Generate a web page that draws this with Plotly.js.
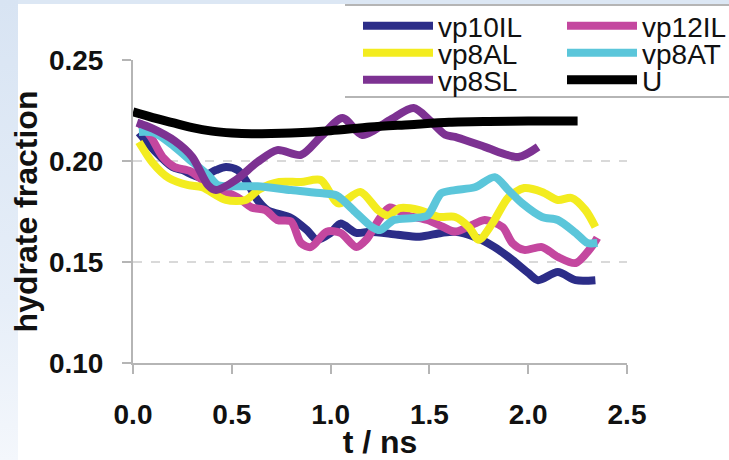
<!DOCTYPE html>
<html>
<head>
<meta charset="utf-8">
<script src="https://cdn.plot.ly/plotly-3.0.1.min.js"></script>
<style>
  html, body { margin: 0; padding: 0; }
  body {
    width: 729px; height: 460px; overflow: hidden;
    background:
      linear-gradient(to bottom, #d8e4f3 0px, #e6eef8 300px, #f4f7fc 460px) left top / 18px 460px no-repeat,
      linear-gradient(to bottom, #dce7f4 0px, #dce7f4 4px, #ffffff 4px) left top / 729px 460px no-repeat;
  }
  #chart { width: 729px; height: 460px; }
</style>
</head>
<body>
<div id="chart"></div>
<script>
// ---- data ----
const seriesNames = ["vp10IL", "vp12IL", "vp8AL", "vp8AT", "vp8SL", "U"];
const seriesColors = ["#2c2d88", "#c4479f", "#f3ec1f", "#5bc6da", "#7d3292", "#000000"];

const t_vp10IL = [0.03, 0.11, 0.20, 0.25, 0.34, 0.42, 0.47, 0.53, 0.58, 0.63, 0.68, 0.80, 0.88, 0.93, 1.00, 1.05, 1.13, 1.20, 1.34, 1.45, 1.56, 1.63, 1.73, 1.83, 1.92, 2.00, 2.05, 2.15, 2.24, 2.34];
const v_vp10IL = [0.214, 0.205, 0.197, 0.1955, 0.192, 0.1955, 0.197, 0.1955, 0.189, 0.1807, 0.1757, 0.1718, 0.1658, 0.161, 0.1644, 0.169, 0.1644, 0.165, 0.1635, 0.1625, 0.1644, 0.165, 0.1624, 0.1574, 0.151, 0.1446, 0.141, 0.145, 0.141, 0.141];

const t_vp12IL = [0.03, 0.09, 0.15, 0.21, 0.29, 0.36, 0.44, 0.53, 0.60, 0.67, 0.73, 0.80, 0.85, 0.90, 0.98, 1.05, 1.13, 1.18, 1.25, 1.30, 1.39, 1.49, 1.57, 1.63, 1.73, 1.78, 1.87, 1.92, 1.98, 2.07, 2.15, 2.24, 2.32, 2.35];
const v_vp12IL = [0.219, 0.212, 0.202, 0.197, 0.195, 0.190, 0.186, 0.182, 0.177, 0.1757, 0.1708, 0.170, 0.1594, 0.1574, 0.165, 0.1644, 0.1574, 0.161, 0.1718, 0.177, 0.173, 0.1708, 0.1673, 0.165, 0.169, 0.1708, 0.1673, 0.1594, 0.156, 0.1574, 0.1525, 0.1495, 0.1574, 0.162];

const t_vp8AL = [0.03, 0.10, 0.18, 0.28, 0.35, 0.47, 0.57, 0.64, 0.74, 0.85, 0.95, 1.04, 1.15, 1.24, 1.29, 1.35, 1.45, 1.55, 1.63, 1.70, 1.75, 1.82, 1.90, 1.98, 2.07, 2.15, 2.22, 2.29, 2.34];
const v_vp8AL = [0.2094, 0.199, 0.1916, 0.188, 0.187, 0.1807, 0.1807, 0.186, 0.1896, 0.1896, 0.1906, 0.179, 0.1847, 0.1757, 0.173, 0.1767, 0.1757, 0.1723, 0.1723, 0.1673, 0.161, 0.1693, 0.182, 0.1866, 0.1847, 0.1807, 0.1817, 0.1757, 0.1673];

const t_vp8AT = [0.03, 0.11, 0.21, 0.30, 0.38, 0.43, 0.52, 0.63, 0.80, 0.96, 1.03, 1.13, 1.21, 1.25, 1.32, 1.42, 1.49, 1.56, 1.63, 1.73, 1.83, 1.90, 1.97, 2.07, 2.15, 2.24, 2.30, 2.35];
const v_vp8AT = [0.2144, 0.2139, 0.207, 0.1995, 0.193, 0.188, 0.1875, 0.1875, 0.1856, 0.184, 0.183, 0.1743, 0.1673, 0.1658, 0.1708, 0.1718, 0.173, 0.184, 0.1856, 0.187, 0.192, 0.1856, 0.179, 0.1723, 0.1708, 0.1644, 0.1594, 0.1594];

const t_vp8SL = [0.02, 0.10, 0.21, 0.30, 0.38, 0.42, 0.52, 0.63, 0.73, 0.85, 0.95, 1.06, 1.16, 1.30, 1.42, 1.50, 1.58, 1.63, 1.78, 1.95, 2.05];
const v_vp8SL = [0.219, 0.216, 0.210, 0.202, 0.188, 0.1856, 0.1906, 0.1995, 0.2054, 0.203, 0.212, 0.2213, 0.2129, 0.2203, 0.2262, 0.2203, 0.213, 0.2119, 0.207, 0.202, 0.207];

const t_U = [0.00, 0.10, 0.20, 0.30, 0.40, 0.50, 0.60, 0.70, 0.80, 1.00, 1.20, 1.40, 1.60, 1.80, 2.00, 2.25];
const v_U = [0.2243, 0.2215, 0.219, 0.2165, 0.2148, 0.2139, 0.2135, 0.2136, 0.2139, 0.2150, 0.2168, 0.2180, 0.2192, 0.2196, 0.2198, 0.2198];

const xTicks = [0, 0.5, 1.0, 1.5, 2.0, 2.5];
const yTicks = [0.10, 0.15, 0.20, 0.25];
const xTitle = "t / ns";
const yTitle = "hydrate fraction";

// ---- build traces ----
const xs = [t_vp10IL, t_vp12IL, t_vp8AL, t_vp8AT, t_vp8SL, t_U];
const ys = [v_vp10IL, v_vp12IL, v_vp8AL, v_vp8AT, v_vp8SL, v_U];
const legendIds = ["legend", "legend2", "legend3", "legend4", "legend5", "legend6"];

const traces = seriesNames.map((n, i) => ({
  type: "scatter", mode: "lines", name: n,
  x: xs[i], y: ys[i],
  line: { color: seriesColors[i], width: i === 5 ? 9 : 8, shape: "spline", smoothing: 0.8 },
  legend: legendIds[i],
  hoverinfo: "skip"
}));

// Plot area: 133..627 px wide, 60..363 px high
const L = 133, R = 729 - 627, T = 60, B = 460 - 363;
const PW = 729 - L - R, PH = 460 - T - B;
const px2x = p => (p - L) / PW;
const py2y = p => 1 + (T - p) / PH;

const FONT = "Liberation Sans, Arial, sans-serif";
// legend positions (two columns, three rows)
const colX = [358, 562];
const rowY = [26, 53, 80];
const legendPos = [[0,0],[1,0],[0,1],[1,1],[0,2],[1,2]];

const layout = {
  width: 729, height: 460,
  margin: { l: L, r: R, t: T, b: B, autoexpand: false },
  paper_bgcolor: "rgba(0,0,0,0)",
  plot_bgcolor: "rgba(0,0,0,0)",
  showlegend: true,
  font: { family: FONT, color: "#111" },
  xaxis: {
    range: [0, 2.5], tickvals: xTicks, tickformat: ".1f",
    showgrid: false, zeroline: false,
    showline: true, linecolor: "#b5b5b5", linewidth: 2,
    ticks: "outside", ticklen: 9, tickwidth: 2, tickcolor: "#b5b5b5",
    tickfont: { family: FONT, size: 28, weight: "bold", color: "#111" },
    ticklabelstandoff: 16,
    title: { text: xTitle, font: { family: FONT, size: 32, weight: "bold", color: "#111" }, standoff: 5 },
    automargin: false, fixedrange: true
  },
  yaxis: {
    range: [0.10, 0.25], tickvals: yTicks, tickformat: ".2f",
    showgrid: true, gridcolor: "#d9d9d9", griddash: "dash", gridwidth: 1.5,
    zeroline: false,
    showline: true, linecolor: "#b5b5b5", linewidth: 2,
    ticks: "outside", ticklen: 9, tickwidth: 2, tickcolor: "#b5b5b5",
    tickfont: { family: FONT, size: 28, weight: "bold", color: "#111" },
    ticklabelstandoff: 13,
    title: { text: yTitle, font: { family: FONT, size: 32, weight: "bold", color: "#111" }, standoff: 2 },
    automargin: false, fixedrange: true
  },
  shapes: [
    { type: "line", xref: "paper", yref: "paper", x0: px2x(345), x1: px2x(735), y0: py2y(5), y1: py2y(5), line: { color: "#9c9c9c", width: 1.5 } },
    { type: "line", xref: "paper", yref: "paper", x0: px2x(345), x1: px2x(735), y0: py2y(97), y1: py2y(97), line: { color: "#9c9c9c", width: 1.5 } }
  ]
};

legendIds.forEach((id, i) => {
  const [c, r] = legendPos[i];
  layout[id] = {
    x: px2x(colX[c]), y: py2y(rowY[r]), xanchor: "left", yanchor: "middle",
    bgcolor: "rgba(0,0,0,0)", borderwidth: 0,
    font: { family: FONT, size: 28, color: "#111" },
    itemwidth: 70, itemclick: false, itemdoubleclick: false
  };
});

Plotly.newPlot("chart", traces, layout, { staticPlot: true, displayModeBar: false });
</script>
</body>
</html>
